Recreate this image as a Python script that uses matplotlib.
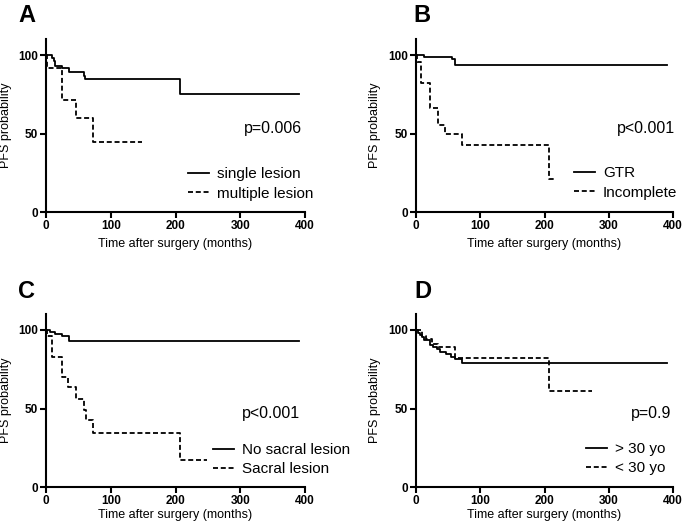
import matplotlib
matplotlib.use("Agg")
import matplotlib.pyplot as plt

plt.rcParams['font.family'] = ['Liberation Sans', 'DejaVu Sans']
plt.rcParams['lines.scale_dashes'] = False

# ---- data (months, PFS %) ----
a_single_t = [0, 9, 12, 14, 24, 36, 58, 61, 207, 390]
a_single_s = [100, 98, 96, 93.2, 91.9, 89, 86.8, 84.7, 75.2, 75.2]
a_multi_t = [0, 2, 24, 46, 72, 148]
a_multi_s = [100, 91.5, 71.3, 59.6, 44.8, 44.8]

b_gtr_t = [0, 12, 56, 60, 391]
b_gtr_s = [100, 98.7, 97.5, 93.6, 93.6]
b_inc_t = [0, 2, 8, 22, 34, 45, 72, 207, 215]
b_inc_s = [100, 95.7, 81.9, 66, 55.3, 49.6, 42.5, 21, 21]

c_nosac_t = [0, 6, 14, 24, 36, 390]
c_nosac_s = [100, 98.9, 97.4, 96.2, 93.2, 93.2]
c_sac_t = [0, 2, 9, 24, 34, 46, 58, 62, 72, 207, 248]
c_sac_s = [100, 96, 82.6, 70.3, 63.9, 56, 49, 42.7, 34.5, 17.3, 17.3]

d_old_t = [0, 3, 6, 9, 12, 22, 26, 33, 38, 46, 55, 61, 71, 390]
d_old_s = [100, 98.3, 96.8, 95.3, 93.6, 90.4, 89.4, 87.7, 86.2, 84.5, 83, 81.3, 79.1, 79.1]
d_young_t = [0, 9, 16, 25, 34, 61, 207, 274]
d_young_s = [100, 96.2, 94, 91, 89.4, 82, 61, 61]

panels = [
    dict(letter='A', series=[(a_single_t, a_single_s, 'single lesion'),
                             (a_multi_t, a_multi_s, 'multiple lesion')],
         p='p=0.006', pxy=(395, 53.5), leg=(0.548, 0.258)),
    dict(letter='B', series=[(b_gtr_t, b_gtr_s, 'GTR'),
                             (b_inc_t, b_inc_s, 'Incomplete')],
         p='p<0.001', pxy=(403, 53.5), leg=(0.615, 0.265)),
    dict(letter='C', series=[(c_nosac_t, c_nosac_s, 'No sacral lesion'),
                             (c_sac_t, c_sac_s, 'Sacral lesion')],
         p='p<0.001', pxy=(392, 47), leg=(0.645, 0.255)),
    dict(letter='D', series=[(d_old_t, d_old_s, '> 30 yo'),
                             (d_young_t, d_young_s, '< 30 yo')],
         p='p=0.9', pxy=(398, 47), leg=(0.66, 0.26)),
]

W, H = 685, 527
fig = plt.figure(figsize=(W / 100, H / 100), dpi=100)

# axes boxes in pixel coords: left, right, top(y=110), bottom(y=0)
boxes = [(46, 305, 39.3, 212), (416, 673, 39.3, 212),
         (46, 305, 314.3, 487), (416, 673, 314.3, 487)]
letter_pos = [(18, 22), (413, 22), (18, 298), (414, 298)]
ylab_x = [12, 381, 12, 381]
xlab_pad = [4, 4, 1, 1]

styles = [dict(ls='-'), dict(ls=(0, (3.6, 2.0)))]

for pan, box, lp, yx, xp in zip(panels, boxes, letter_pos, ylab_x, xlab_pad):
    l, r, t, b = box
    ax = fig.add_axes([l / W, 1 - b / H, (r - l) / W, (b - t) / H])
    for (tt, ss, lab), st in zip(pan['series'], styles):
        ax.step(tt, ss, where='post', color='black', lw=1.3,
                linestyle=st['ls'], label=lab, clip_on=False)
    ax.set_xlim(0, 400)
    ax.set_ylim(0, 110)
    ax.set_xticks([0, 100, 200, 300, 400])
    ax.set_yticks([0, 50, 100])
    for s in ['top', 'right']:
        ax.spines[s].set_visible(False)
    for s in ['left', 'bottom']:
        ax.spines[s].set_linewidth(1.5)
    ax.tick_params(direction='out', length=4, width=1.5, labelsize=8.5, pad=2)
    for lbl in ax.get_xticklabels() + ax.get_yticklabels():
        lbl.set_fontweight('bold')
    ax.set_xlabel('Time after surgery (months)', fontsize=9, labelpad=xp)
    ax.set_ylabel('PFS probability', fontsize=9)
    ax.yaxis.set_label_coords((yx - l) / (r - l), 0.5)
    ax.text(pan['pxy'][0], pan['pxy'][1], pan['p'], ha='right', va='center',
            fontsize=11.5, clip_on=False)
    ax.legend(loc='upper left', bbox_to_anchor=pan['leg'], frameon=False,
              fontsize=11, handlelength=1.4, handletextpad=0.5,
              labelspacing=0.35, borderpad=0, borderaxespad=0)
    fig.text(lp[0] / W, 1 - lp[1] / H, pan['letter'], fontsize=17,
             fontweight='bold', ha='left', va='baseline')

fig.savefig('out.png', dpi=100)
